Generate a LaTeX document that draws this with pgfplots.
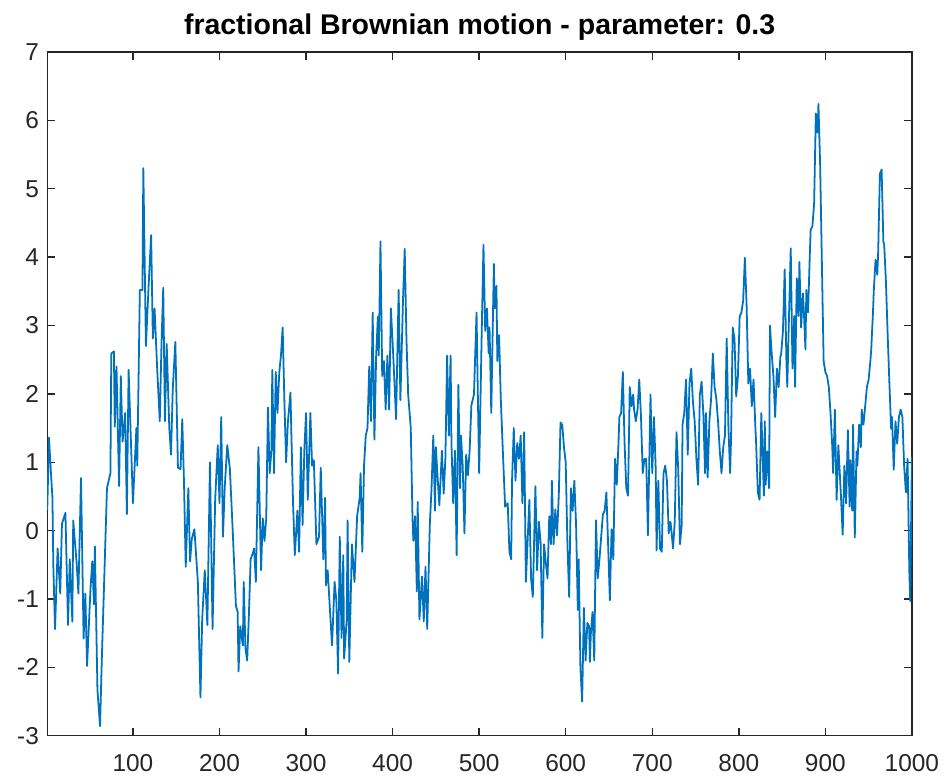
\documentclass[border=0pt]{standalone}
\usepackage{fontspec}
\setmainfont{Liberation Sans}
\usepackage{pgfplots}
\pgfplotsset{compat=1.18}
\definecolor{mlblue}{RGB}{0,114,189}
\definecolor{axgray}{RGB}{38,38,38}

\begin{document}
\begin{tikzpicture}
\begin{axis}[
  scale only axis, width=12.81cm, height=10.13cm,
  xmin=1, xmax=1000, ymin=-3, ymax=7,
  xtick={100,200,...,1000}, ytick={-3,-2,...,7},
  tick align=inside, tick pos=both,
  major tick length=0.12cm,
  axis line style={axgray, line width=0.6pt},
  every tick/.style={axgray, line width=0.6pt},
  tick label style={font=\fontsize{10.3}{12}\selectfont, text=axgray},
  /pgf/number format/assume math mode=true,
  /pgf/number format/1000 sep={},
  xticklabel style={yshift=-4.5pt},
  title={fractional Brownian motion - parameter: 0.3},
  title style={font=\bfseries\fontsize{12}{14}\selectfont, at={(0.5,1)}, anchor=south, yshift=-1.5pt, inner sep=0pt},
]
\addplot[mlblue, line width=0.75pt, line join=round, no marks] table {
n v
1 0.3
3 1.36
5 0.9
7 0.48
8 -0.5
10 -1.44
13 -0.26
16 -0.92
18 0.1
22 0.26
25 -1.38
27 -0.42
30 -1.33
31 0.15
35 -0.48
37 -0.92
40 0.77
43 -1.58
45 -0.92
47 -1.98
51 -0.84
53 -0.45
55 -1.08
56 -0.23
59 -2.33
62 -2.86
64 -1.9
67 -0.64
70 0.62
72 0.73
74 0.84
75 2.59
78 2.62
79 1.52
81 2.4
84 0.65
86 2.26
88 1.3
91 1.72
93 0.24
95 2.35
100 0.4
104 1.5
105 0.95
108 3.52
111 3.52
112 5.3
115 2.7
118 3.55
121 4.32
123 2.81
125 3.25
128 2.37
131 1.6
133 2.73
135 3.55
137 1.6
139 2.73
142 1.5
144 1.11
146 2.07
149 2.76
152 0.92
155 0.9
157 1.63
159 0.7
161 -0.53
164 0.62
166 -0.45
168 -0.12
171 0.02
175 -0.75
178 -2.44
180 -1.3
183 -0.58
186 -1.38
189 1.0
192 -1.44
195 0.45
198 1.25
200 0.4
202 1.66
204 -0.09
206 0.62
209 1.25
212 0.9
215 0.08
219 -1.1
221 -1.19
222 -2.06
224 -1.4
227 -1.68
228 -0.75
230 -1.73
232 -1.9
234 -1.22
236 -0.42
239 -0.31
240 -0.26
242 -0.75
245 1.22
248 -0.58
250 0.18
252 -0.15
254 0.18
256 1.8
258 0.84
260 1.17
261 2.35
263 0.84
265 2.32
267 1.72
269 2.3
271 2.56
273 2.97
275 1.88
277 1.0
279 1.58
282 2.02
283 1.44
285 0.4
287 -0.36
290 0.29
292 -0.31
294 1.22
296 0.08
298 1.17
300 1.72
302 0.45
305 1.72
307 0.95
309 1.03
312 -0.2
315 -0.09
317 0.92
320 -0.42
322 0.48
323 -0.8
325 -0.58
327 -1.02
330 -1.68
333 -0.75
335 -1.02
337 -2.09
339 -0.09
341 -1.57
343 -0.36
344 -1.87
347 -1.3
348 0.15
350 -1.92
353 -0.2
356 -0.75
359 0.21
362 0.48
363 0.84
365 -0.31
367 0.95
369 1.39
371 1.5
373 2.4
375 1.6
377 3.19
379 1.33
381 2.56
383 3.13
384 2.56
386 4.23
388 2.26
390 2.48
392 1.77
394 2.56
396 1.77
398 3.25
400 2.76
402 2.21
404 1.63
405 2.26
407 3.52
409 1.91
412 3.36
414 4.12
416 2.81
418 1.99
421 1.5
423 0.18
424 -0.15
426 0.21
428 -0.89
429 0.42
431 -1.3
434 -0.67
436 -1.33
438 -0.53
440 -1.44
443 0.08
445 0.62
447 1.39
449 0.29
450 1.22
452 0.78
454 0.37
457 1.17
459 0.54
461 1.05
463 2.56
465 1.39
467 2.56
468 1.28
470 0.4
472 1.17
474 -0.36
476 2.13
478 0.62
479 1.39
481 0.95
483 -0.04
485 1.11
487 0.81
489 1.17
491 1.83
494 1.99
497 3.19
498 2.37
500 0.84
503 2.92
505 4.18
507 2.92
509 3.25
511 2.59
512 2.97
514 1.72
517 3.9
518 3.25
520 3.58
521 2.48
523 2.86
525 1.93
527 1.28
530 0.35
533 0.4
535 -0.31
537 -0.42
538 0.73
540 1.5
542 0.73
544 1.28
546 1.05
548 1.39
550 0.4
552 1.44
554 -0.75
556 -0.15
558 0.45
560 -0.7
562 -0.97
563 -0.42
565 0.65
567 -0.58
569 0.13
571 -0.17
573 -1.57
575 -0.2
577 -0.47
579 -0.7
581 0.21
583 -0.2
584 0.73
586 -0.2
588 0.31
590 -0.07
592 0.51
594 1.58
596 1.55
598 1.22
600 1.0
602 -0.2
604 -0.97
606 0.62
608 0.29
610 0.73
612 0.08
614 -1.16
615 -0.42
617 -2.0
619 -2.5
621 -1.13
623 -1.9
625 -1.35
627 -1.4
628 -1.92
629 -1.52
631 -1.19
633 -1.9
635 0.15
637 -0.7
639 -0.42
641 -0.09
643 0.24
645 0.29
647 0.56
649 -0.2
651 -1.02
653 0.02
655 -0.42
657 1.05
659 0.67
661 1.28
662 1.66
664 1.72
666 2.32
668 1.28
670 0.62
672 0.51
674 2.1
676 1.82
678 1.99
679 1.77
681 1.6
683 1.77
685 2.21
687 1.66
689 0.84
691 1.05
693 1.05
695 -0.07
698 1.99
700 0.84
702 1.66
704 0.9
705 -0.29
707 0.73
709 -0.26
711 -0.31
713 0.84
715 0.95
717 0.73
719 -0.04
721 0.13
722 0.02
724 -0.26
726 0.13
728 1.44
730 0.9
732 -0.2
734 0.08
735 1.55
737 1.72
739 2.21
741 1.11
743 2.15
745 2.37
747 1.88
749 1.6
751 1.05
753 0.67
755 1.99
757 2.18
759 1.72
761 0.84
762 1.72
764 0.78
766 1.6
768 1.93
770 2.59
772 2.1
774 1.93
776 1.6
778 1.17
780 0.84
782 1.22
784 1.39
786 2.81
788 1.5
790 0.84
791 1.33
793 2.97
795 2.81
797 1.96
799 2.26
801 3.13
803 3.19
805 3.36
807 3.99
809 3.3
811 2.15
813 2.37
815 1.82
817 2.21
819 1.55
820 1.28
822 0.56
824 0.45
826 1.72
828 0.9
829 0.51
830 1.6
831 0.67
833 1.16
835 0.62
836 3.0
838 2.59
840 2.26
842 1.66
844 2.37
846 2.1
848 2.54
849 2.59
851 2.92
853 3.82
855 2.48
856 2.1
858 3.14
860 4.13
862 2.37
864 3.14
865 2.1
867 3.69
869 3.14
870 3.93
872 2.97
874 3.47
875 3.25
877 2.65
878 3.52
880 3.19
882 4.02
883 4.4
885 4.45
887 4.78
889 6.1
891 5.82
892 6.24
894 5.33
896 3.9
898 2.48
900 2.32
902 2.26
904 2.1
906 1.71
908 1.22
909 0.84
911 1.77
913 0.45
915 1.25
918 0.51
920 -0.06
922 0.95
924 0.4
926 1.47
928 0.35
929 1.03
931 0.29
932 1.55
934 -0.1
936 1.16
937 0.95
939 1.55
941 1.22
942 1.77
944 1.55
946 1.82
948 2.1
950 2.21
952 2.48
953 2.65
955 3.19
956 3.52
958 3.96
960 3.74
961 4.07
963 5.22
965 5.28
967 4.23
968 4.18
970 3.63
972 2.86
974 2.15
976 1.49
977 1.66
979 0.89
981 1.6
983 1.27
985 1.66
987 1.77
989 1.66
991 0.95
993 0.56
995 1.05
997 -0.59
998 -1.03
1000 1.08
};
\end{axis}
\pgfresetboundingbox
\path[use as bounding box] (-0.70cm,-0.65cm) rectangle (13.30cm,10.90cm);
\end{tikzpicture}
\end{document}
